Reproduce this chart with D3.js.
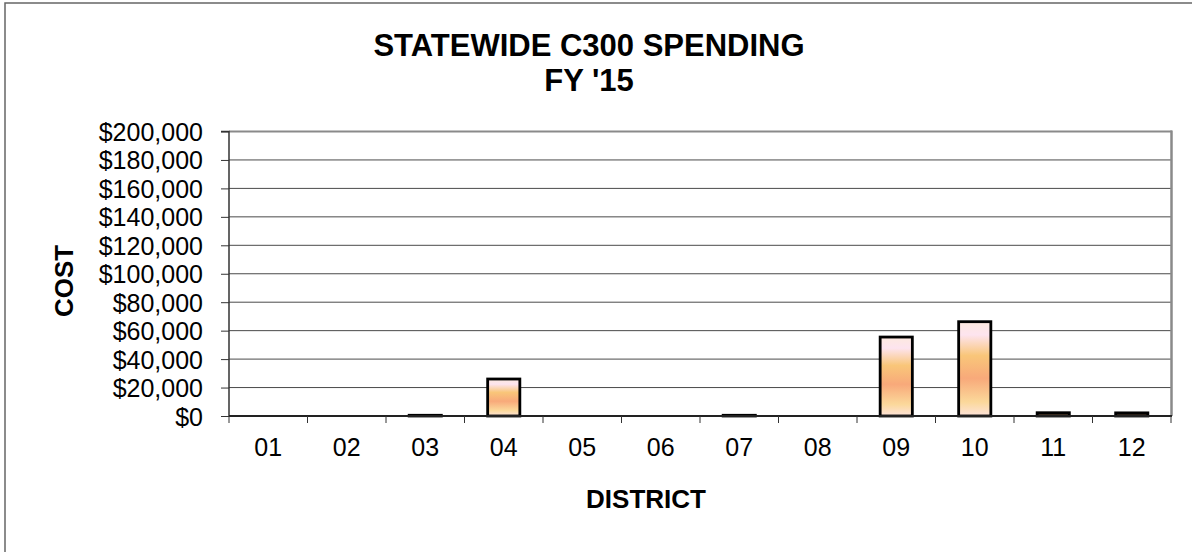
<!DOCTYPE html>
<html><head><meta charset="utf-8">
<script src="https://cdn.jsdelivr.net/npm/d3@7"></script>
<style>html,body{margin:0;padding:0;background:#fff;}svg{display:block;font-family:Arial,"Liberation Sans",sans-serif;}</style>
</head><body><svg id="c" width="1192" height="552"></svg>
<script>
const districts = ["01","02","03","04","05","06","07","08","09","10","11","12"];
const costs = [0, 0, 500, 26000, 0, 0, 500, 0, 55500, 66300, 2300, 2200];
const yTicks = [0,20000,40000,60000,80000,100000,120000,140000,160000,180000,200000];
const titleLines = ["STATEWIDE C300 SPENDING", "FY '15"];
const xTitle = "DISTRICT", yTitle = "COST";

const svg = d3.select("#c");
const m = {l:229, r:1171, t:131.5, b:416};
const x = d3.scaleBand().domain(districts).range([m.l, m.r]).paddingInner(0.59).paddingOuter(0.295);
const xb = d3.scaleBand().domain(districts).range([m.l, m.r]);
const y = d3.scaleLinear().domain([0,200000]).range([m.b, m.t]);

// outer frame
svg.append("rect").attr("x",5).attr("y",3).attr("width",1200).attr("height",560)
  .attr("fill","none").attr("stroke","#666").attr("stroke-width",1.5);

// gradient
const defs = svg.append("defs");
const g = defs.append("linearGradient").attr("id","bg").attr("x1",0).attr("y1",0).attr("x2",0).attr("y2",1);
[[0,"#fde9df"],[0.14,"#fde4ef"],[0.36,"#f9c679"],[0.6,"#f8a97a"],[0.85,"#fbd89a"],[1,"#fde3da"]]
  .forEach(([o,c])=>g.append("stop").attr("offset",o).attr("stop-color",c));

// gridlines
svg.append("g").selectAll("line").data(yTicks.filter(d=>d>0 && d<200000)).join("line")
  .attr("x1",m.l).attr("x2",m.r).attr("y1",d=>y(d)).attr("y2",d=>y(d))
  .attr("stroke","#4a4a4a").attr("stroke-width",1);

// plot border top/right
svg.append("line").attr("x1",m.l).attr("x2",m.r+1).attr("y1",y(200000)).attr("y2",y(200000)).attr("stroke","#8a8a8a").attr("stroke-width",2);
svg.append("line").attr("x1",m.r+0.5).attr("x2",m.r+0.5).attr("y1",y(200000)-1).attr("y2",m.b).attr("stroke","#8a8a8a").attr("stroke-width",2.5);

// bars
svg.append("g").selectAll("rect").data(districts.map((d,i)=>({d,v:costs[i]})).filter(o=>o.v>0)).join("rect")
  .attr("x",o=>x(o.d)).attr("width",x.bandwidth())
  .attr("y",o=>y(o.v)).attr("height",o=>m.b-y(o.v))
  .attr("fill",o=>(m.b-y(o.v))>8?"url(#bg)":"#7a5a40")
  .attr("stroke","#000").attr("stroke-width",2.8);

// y axis
const ya = d3.axisLeft(y).tickValues(yTicks).tickSize(8).tickPadding(18)
  .tickFormat(d=>"$"+d3.format(",")(d));
const yg = svg.append("g").attr("transform",`translate(${m.l},0)`).call(ya);
yg.select(".domain").attr("stroke","#333").attr("stroke-width",1.5).attr("d",`M-8,${m.t}H0V${m.b}`);
yg.selectAll(".tick line").attr("stroke","#333");
yg.selectAll("text").attr("font-size",25).attr("fill","#000").attr("dy","0.36em")
  .attr("font-family","Arial,'Liberation Sans',sans-serif");

// x axis
const xa = d3.axisBottom(xb).tickSize(0).tickPadding(22);
const xg = svg.append("g").attr("transform",`translate(0,${m.b})`).call(xa);
xg.select(".domain").attr("stroke","#222").attr("stroke-width",2).attr("d",`M${m.l},0H${m.r+1}`);
xg.selectAll("text").attr("font-size",25).attr("fill","#000")
  .attr("font-family","Arial,'Liberation Sans',sans-serif");
// boundary ticks
svg.append("g").selectAll("line").data(districts.concat(["end"])).join("line")
  .attr("x1",(d,i)=>i<districts.length?xb(d):m.r).attr("x2",(d,i)=>i<districts.length?xb(d):m.r)
  .attr("y1",m.b).attr("y2",m.b+7).attr("stroke","#333").attr("stroke-width",1);

// titles
svg.append("text").attr("x",589).attr("y",56).attr("text-anchor","middle")
  .attr("font-size",31).attr("font-weight","bold").text(titleLines[0]);
svg.append("text").attr("x",589).attr("y",91).attr("text-anchor","middle")
  .attr("font-size",31).attr("font-weight","bold").text(titleLines[1]);
svg.append("text").attr("x",646).attr("y",508).attr("text-anchor","middle")
  .attr("font-size",26).attr("font-weight","bold").text(xTitle);
svg.append("text").attr("transform","translate(73,281) rotate(-90)").attr("text-anchor","middle")
  .attr("font-size",26).attr("font-weight","bold").text(yTitle);
</script></body></html>
